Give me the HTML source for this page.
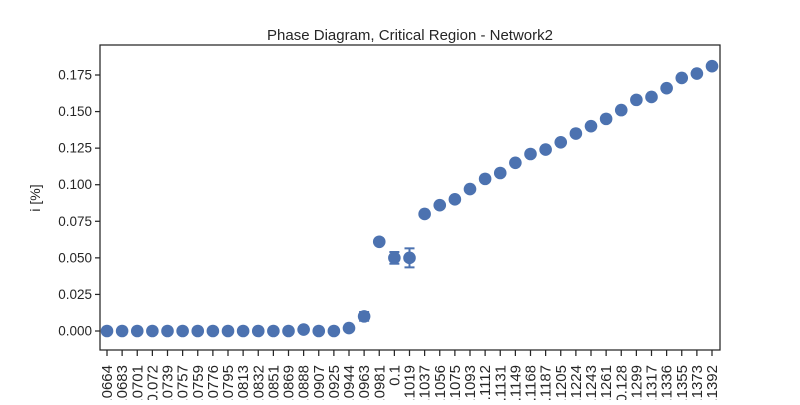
<!DOCTYPE html>
<html><head><meta charset="utf-8"><style>
body{margin:0;background:#fff;}
svg text{font-family:"Liberation Sans","DejaVu Sans",sans-serif;fill:#262626;}
</style></head><body>
<svg id="chart" width="800" height="400" viewBox="0 0 800 400">
<rect width="800" height="400" fill="#fff"/>
<text x="410" y="40" text-anchor="middle" font-size="15">Phase Diagram, Critical Region - Network2</text>
<text transform="translate(40,198) rotate(-90)" text-anchor="middle" font-size="14">i [%]</text>
<g id="grid"></g>
<g id="marks"></g>
<rect x="100" y="45" width="620" height="305" fill="none" stroke="#262626" stroke-width="1.25"/>
</svg>
<script>
const categories=["0.0664","0.0683","0.0701","0.072","0.0739","0.0757","0.0759","0.0776","0.0795","0.0813","0.0832","0.0851","0.0869","0.0888","0.0907","0.0925","0.0944","0.0963","0.0981","0.1","0.1019","0.1037","0.1056","0.1075","0.1093","0.1112","0.1131","0.1149","0.1168","0.1187","0.1205","0.1224","0.1243","0.1261","0.128","0.1299","0.1317","0.1336","0.1355","0.1373","0.1392"];
const values=[0,0,0,0,0,0,0,0,0,0,0,0,0,0.001,0,0,0.002,0.010,0.061,0.050,0.050,0.080,0.086,0.090,0.097,0.104,0.108,0.115,0.121,0.124,0.129,0.135,0.140,0.145,0.151,0.158,0.160,0.166,0.173,0.176,0.181];
const errors=[0,0,0,0,0,0,0,0,0,0,0,0,0,0,0,0,0,0.003,0.001,0.004,0.0065,0,0,0,0,0,0,0,0,0,0,0,0,0,0,0,0,0,0,0,0];
const yTicks=[0,0.025,0.05,0.075,0.1,0.125,0.15,0.175];
const yTickLabels=["0.000","0.025","0.050","0.075","0.100","0.125","0.150","0.175"];
const NS="http://www.w3.org/2000/svg";
const x0=107,x1=712,yZero=331,yTop=75,vTop=0.175;
function xs(i){return x0+(x1-x0)*i/(categories.length-1);}
function ys(v){return yZero-(yZero-yTop)*v/vTop;}
function mk(tag,attrs,parent){const e=document.createElementNS(NS,tag);for(const k in attrs)e.setAttribute(k,attrs[k]);parent.appendChild(e);return e;}
const g=document.getElementById('grid'),m=document.getElementById('marks');
yTicks.forEach((t,i)=>{
  const y=ys(t);
  const l=mk('line',{x1:95,x2:100,y1:y,y2:y,stroke:'#262626','stroke-width':1.25},g);
  
  
  const tx=mk('text',{x:92,y:y+4.5,'text-anchor':'end','font-size':13.5},g);
  tx.textContent=yTickLabels[i];
  
  
});
categories.forEach((c,i)=>{
  const x=xs(i);
  const l=mk('line',{x1:x,x2:x,y1:350,y2:356,stroke:'#262626','stroke-width':1.25},g);
  
  
  const tx=mk('text',{transform:`translate(${x+5},365) rotate(-90)`,'text-anchor':'end','font-size':15},g);
  tx.textContent=c;
  
  
});
values.forEach((v,i)=>{
  const x=xs(i),y=ys(v),e=errors[i];
  if(e>0){
    const yl=ys(v-e),yh=ys(v+e);
    const eb=mk('g',{stroke:'#4c72b0','stroke-width':2},m);
    
    
    mk('line',{x1:x,x2:x,y1:yl,y2:yh},eb);
    mk('line',{x1:x-5,x2:x+5,y1:yl,y2:yl},eb);
    mk('line',{x1:x-5,x2:x+5,y1:yh,y2:yh},eb);
  }
  const p=mk('circle',{cx:x,cy:y,r:6.3,fill:'#4c72b0'},m);
  
  
});
</script>
</body></html>
